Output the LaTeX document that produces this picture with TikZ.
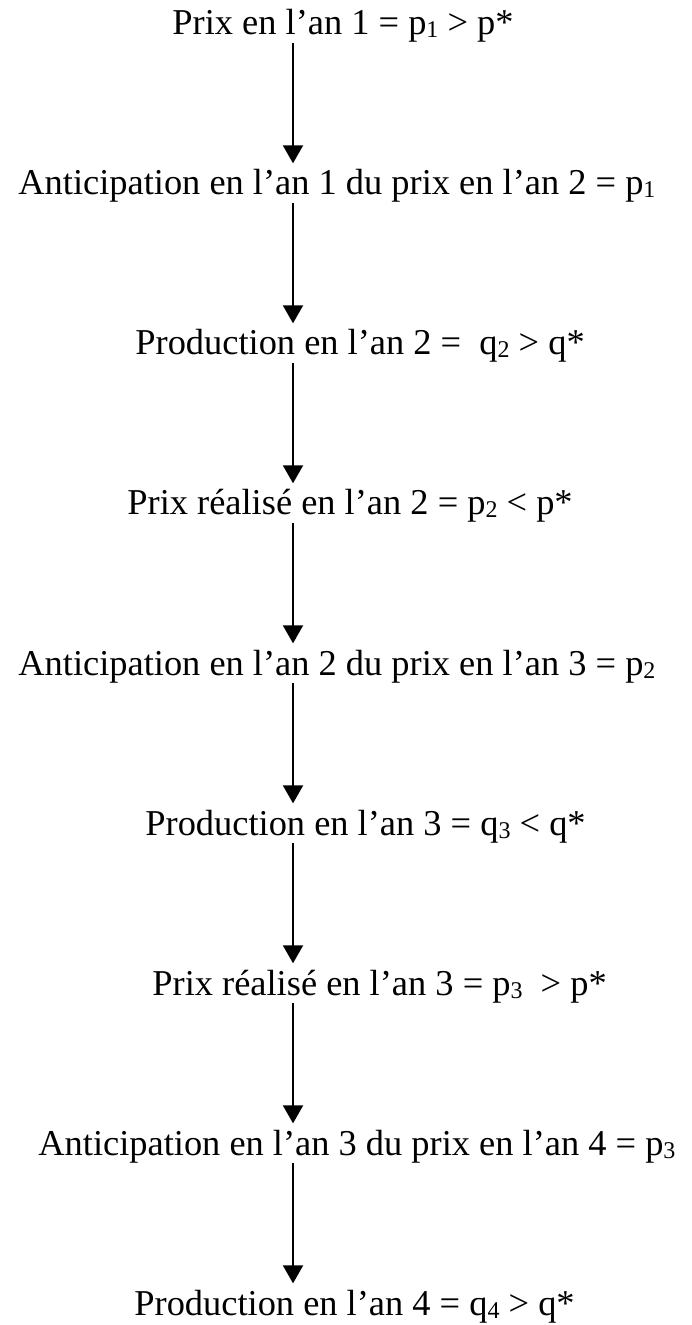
\documentclass[tikz,border=0pt]{standalone}
\usepackage{fontspec}
\setmainfont{Liberation Serif}
\usetikzlibrary{arrows.meta}
% small lowered index digit
\newcommand{\sbs}[1]{\raisebox{-1.5pt}{\fontsize{12}{12}\selectfont #1}}
\begin{document}
\begin{tikzpicture}[x=0.5pt,y=0.5pt,
  line/.style={anchor=base west,inner sep=0pt,font=\fontsize{18.2}{20}\selectfont},
  arr/.style={line width=1pt,-{Triangle[length=9pt,width=10pt]},shorten >=3pt}]
\useasboundingbox (0,0) rectangle (691,-1325);
\coordinate (ax) at (293,0);
\node[line] (n1) at (172,-35)   {Prix en l’an 1 = p\sbs{1} > p*};
\node[line] (n2) at (18,-195)   {Anticipation en l’an 1 du prix en l’an 2 = p\sbs{1}};
\node[line] (n3) at (135,-355)  {Production en l’an 2 = \ q\sbs{2} > q*};
\node[line] (n4) at (127,-515)  {Prix réalisé en l’an 2 = p\sbs{2} < p*};
\node[line] (n5) at (18,-675)   {Anticipation en l’an 2 du prix en l’an 3 = p\sbs{2}};
\node[line] (n6) at (145,-835)  {Production en l’an 3 = q\sbs{3} < q*};
\node[line] (n7) at (152,-995)  {Prix réalisé en l’an 3 = p\sbs{3} \ > p*};
\node[line] (n8) at (38,-1155)  {Anticipation en l’an 3 du prix en l’an 4 = p\sbs{3}};
\node[line] (n9) at (134,-1315) {Production en l’an 4 = q\sbs{4} > q*};
\foreach \a/\b in {n1/n2,n2/n3,n3/n4,n4/n5,n5/n6,n6/n7,n7/n8,n8/n9}
  \draw[arr] (\a.south -| ax) -- (\b.north -| ax);
\end{tikzpicture}
\end{document}
